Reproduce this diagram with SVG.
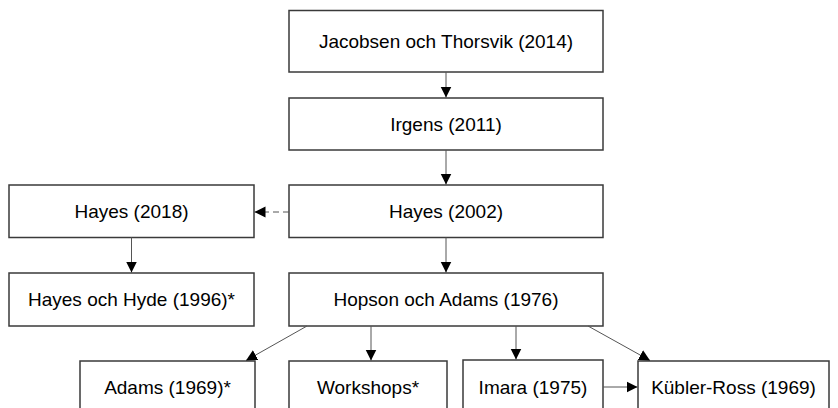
<svg xmlns="http://www.w3.org/2000/svg" width="838" height="408" viewBox="0 0 838 408">
<style>
.box{fill:#fff;stroke:#3a3a3a;stroke-width:1.5}
.lbl{font-family:"Liberation Sans",Arial,sans-serif;font-size:19px;fill:#000;text-anchor:middle}
.con{stroke:#555;stroke-width:1;fill:none}
.dash{stroke-dasharray:6 4}
</style>
<defs>
<marker id="ah" markerUnits="userSpaceOnUse" markerWidth="12" markerHeight="12" refX="11" refY="6" orient="auto">
<path d="M0,0.5 L11,6 L0,11.5 z" fill="#000"/>
</marker>
</defs>
<rect width="838" height="408" fill="#fff"/>
<g id="n1"><rect class="box" x="289" y="10.5" width="314" height="61.5"/><text class="lbl" x="446" y="47.5">Jacobsen och Thorsvik (2014)</text></g>
<g id="n2"><rect class="box" x="289" y="98" width="314" height="52"/><text class="lbl" x="446" y="130.5">Irgens (2011)</text></g>
<g id="n3"><rect class="box" x="289" y="185" width="314" height="52.5"/><text class="lbl" x="446" y="218">Hayes (2002)</text></g>
<g id="n4"><rect class="box" x="9" y="185" width="245" height="52.5"/><text class="lbl" x="131.5" y="218">Hayes (2018)</text></g>
<g id="n5"><rect class="box" x="9" y="273" width="245" height="53"/><text class="lbl" x="131.5" y="306">Hayes och Hyde (1996)*</text></g>
<g id="n6"><rect class="box" x="289" y="273" width="314" height="53"/><text class="lbl" x="446" y="306">Hopson och Adams (1976)</text></g>
<g id="n7"><rect class="box" x="80" y="361" width="175" height="53"/><text class="lbl" x="167.5" y="394">Adams (1969)*</text></g>
<g id="n8"><rect class="box" x="289" y="361" width="158" height="53"/><text class="lbl" x="368" y="394">Workshops*</text></g>
<g id="n9"><rect class="box" x="463" y="360" width="140" height="54"/><text class="lbl" x="533" y="394">Imara (1975)</text></g>
<g id="n10"><rect class="box" x="638" y="361" width="191" height="53"/><text class="lbl" x="733.5" y="394">Kübler-Ross (1969)</text></g>
<g id="connectors">
<line class="con" x1="446" y1="72" x2="446" y2="97.5" marker-end="url(#ah)"/>
<line class="con" x1="446" y1="150" x2="446" y2="184.5" marker-end="url(#ah)"/>
<line class="con dash" x1="289" y1="212" x2="254.5" y2="212" marker-end="url(#ah)"/>
<line class="con" x1="131.5" y1="237.5" x2="131.5" y2="272.5" marker-end="url(#ah)"/>
<line class="con" x1="446" y1="237.5" x2="446" y2="272.5" marker-end="url(#ah)"/>
<line class="con" x1="307" y1="326" x2="246" y2="360.5" marker-end="url(#ah)"/>
<line class="con" x1="371" y1="326" x2="371" y2="360.5" marker-end="url(#ah)"/>
<line class="con" x1="516" y1="326" x2="516" y2="359.5" marker-end="url(#ah)"/>
<line class="con" x1="588" y1="326" x2="650" y2="360.5" marker-end="url(#ah)"/>
<line class="con" x1="603" y1="387" x2="637.5" y2="387" marker-end="url(#ah)"/>
</g>
</svg>
